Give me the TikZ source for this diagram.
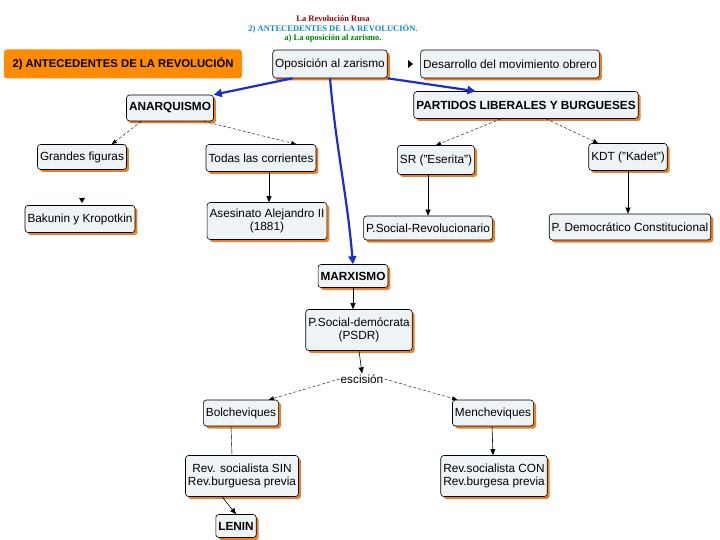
\documentclass[tikz,border=0pt]{standalone}
\usepackage{fontspec}
\setmainfont{Liberation Sans}
\newfontfamily\serifttl{Liberation Serif}
\usetikzlibrary{shadows,arrows.meta}
\definecolor{boxfill}{HTML}{EEF3F6}
\definecolor{shad}{HTML}{E8802A}
\definecolor{blueline}{HTML}{1A2FC8}
\begin{document}
\begin{tikzpicture}[x=1pt,y=-1pt,
  bx/.style={draw=black,line width=0.6pt,rounded corners=3pt,fill=boxfill,
    font=\fontsize{11.8}{13}\selectfont,align=center,inner sep=2.5pt,minimum height=24pt,
    drop shadow={shadow xshift=2.5pt,shadow yshift=-2.5pt,fill=shad,opacity=1}},
  bb/.style={bx,font=\fontsize{11.8}{13}\selectfont\bfseries},
  big/.style={line width=2.2pt,draw=blueline,-{Triangle[length=8pt,width=8pt]}},
  thin/.style={line width=0.4pt,densely dashed,-{Triangle[length=5pt,width=4pt]}},
  sol/.style={line width=0.6pt,-{Triangle[length=6pt,width=5pt]}}]
\useasboundingbox (0,0) rectangle (720,540);
\node[font=\serifttl\bfseries\fontsize{8.5}{9}\selectfont,text=red!60!black] (t1) at (333,19) {La Revolución Rusa};
\node[font=\serifttl\bfseries\fontsize{8.5}{9}\selectfont,text=cyan!70!blue] (t2) at (333,29) {2) ANTECEDENTES DE LA REVOLUCIÓN.};
\node[font=\serifttl\bfseries\fontsize{8.5}{9}\selectfont,text=green!50!black] (t3) at (333,38) {a) La oposición al zarismo.};
\node[fill=orange!90!yellow,rounded corners=3pt,minimum width=238pt,minimum height=29pt,inner sep=2pt,font=\fontsize{11.3}{13}\selectfont\bfseries] (ant) at (123,64) {2) ANTECEDENTES DE LA REVOLUCIÓN};
\node[bx,minimum height=28pt] (op) at (330,64) {Oposición al zarismo};
\node[bx,minimum height=28pt] (des) at (510,64) {Desarrollo del movimiento obrero};
\fill (408,60) -- (413,64) -- (408,68) -- cycle;
\node[bb,minimum height=26pt] (anq) at (170,108) {ANARQUISMO};
\node[bb,minimum height=27pt] (par) at (526,105) {PARTIDOS LIBERALES Y BURGUESES};
\node[bx,minimum height=25pt] (gf) at (82,157) {Grandes figuras};
\node[bx,minimum height=27pt] (tc) at (261,158) {Todas las corrientes};
\node[bx,minimum height=29pt] (sr) at (436,160) {SR ("Eserita")};
\node[bx,minimum height=27pt] (kdt) at (628,157) {KDT ("Kadet")};
\node[bx,minimum height=27pt] (bak) at (80,219) {Bakunin y Kropotkin};
\node[bx,minimum height=37pt] (ase) at (267,221) {Asesinato Alejandro II\\(1881)};
\node[bx] (psr) at (428,228) {P.Social-Revolucionario};
\node[bx,minimum height=26pt] (pdc) at (630,227) {P. Democrático Constitucional};
\node[bb,minimum height=23pt] (mar) at (353,276) {MARXISMO};
\node[bx,minimum height=41pt] (psdr) at (359,330) {P.Social-demócrata\\(PSDR)};
\node[font=\fontsize{11.8}{12}\selectfont,inner sep=1pt] (esc) at (362,379) {escisión};
\node[bx,minimum height=26pt] (bol) at (241,413) {Bolcheviques};
\node[bx,minimum height=26pt] (men) at (493,413) {Mencheviques};
\node[bx,minimum height=41pt] (sin) at (242,476) {Rev. socialista SIN\\Rev.burguesa previa};
\node[bx,minimum height=41pt] (con) at (494,476) {Rev.socialista CON\\Rev.burgesa previa};
\node[bb,minimum height=23pt] (len) at (236,526) {LENIN};
\draw[big] ([xshift=20pt]op.south west) -- (anq.north east);
\draw[big] (op.south) to[out=-85,in=95] (mar.north);
\draw[big] (op.south east) -- ([xshift=62pt]par.north west);
\draw[thin] ([xshift=15pt]anq.south west) -- ([xshift=-15pt]gf.north east);
\draw[thin] ([xshift=-10pt]anq.south east) -- ([xshift=-20pt]tc.north east);
\draw[sol] ([xshift=8pt]tc.south) -- ([xshift=2pt]ase.north);
\fill (79,198) -- (85,198) -- (82,203) -- cycle;
\draw[thin] ([xshift=-25pt]par.south) -- (sr.north);
\draw[thin] ([xshift=20pt]par.south) -- ([xshift=-30pt]kdt.north);
\draw[sol,line width=0.4pt] ([xshift=-8pt]sr.south) -- (psr.north);
\draw[sol,line width=0.4pt] (kdt.south) -- ([xshift=-2pt]pdc.north);
\draw[sol] (mar.south) -- ([xshift=-6pt]psdr.north);
\draw[sol] (psdr.south) -- (esc.north);
\draw[thin] (esc.west) -- ([xshift=-10pt]bol.north east);
\draw[thin] (esc.east) -- ([xshift=5pt]men.north west);
\draw[line width=0.4pt] ([xshift=-10pt]bol.south) -- ([xshift=-10pt]sin.north);
\draw[sol] ([xshift=-1pt]men.south) -- ([xshift=-1pt]con.north);
\draw[sol] ([xshift=-20pt]sin.south) -- (len.north);
\end{tikzpicture}
\end{document}
